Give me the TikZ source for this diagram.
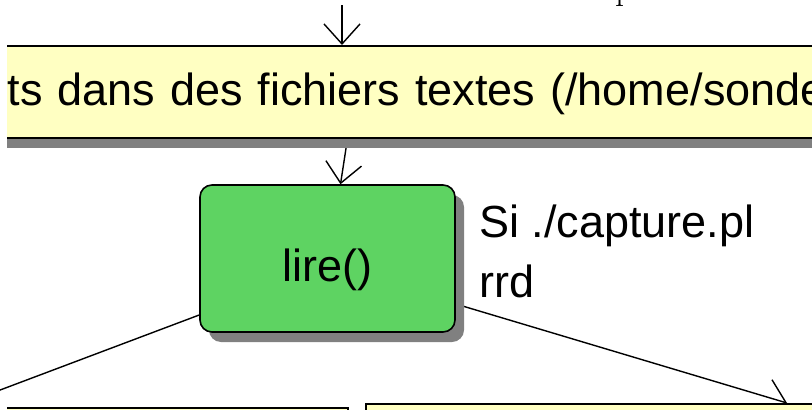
\documentclass[tikz,border=0pt]{standalone}
\usepackage{fontspec}
\newfontfamily\diagfont{Liberation Sans}
\usetikzlibrary{arrows.meta,backgrounds}
\definecolor{yfill}{RGB}{255,255,194}
\definecolor{gfill}{RGB}{94,211,98}
\definecolor{shadowg}{RGB}{128,128,128}
\tikzset{
  boxshadow/.style={preaction={fill=shadowg,transform canvas={shift={(#1)}}}},
  yellowbox/.style={draw=black,line width=1.6pt,fill=yfill,boxshadow={8pt,-10pt},inner sep=0pt},
  greenbox/.style={draw=black,line width=1.6pt,fill=gfill,rounded corners=12pt,boxshadow={9pt,-10pt},inner sep=0pt},
  bigtext/.style={font=\diagfont\fontsize{45}{60}\selectfont},
  conn/.style={draw=black,line width=1.4pt,-{Straight Barb[length=20pt,width=36pt]}},
}
\begin{document}
\begin{tikzpicture}[x=1pt,y=-1pt]
\useasboundingbox (0,0) rectangle (812,410);
\clip (7,-20) rectangle (830,430);
% partial text at top
\node[font=\fontsize{36}{36}\selectfont\rmfamily,anchor=base west,inner sep=0pt] (ptext) at (615,-1) {p};
% top yellow box
\node[yellowbox,bigtext,anchor=north west,minimum height=92pt,text width=950pt,align=left,inner xsep=10pt] (files) at (-3,45) {\raisebox{-14pt}[0pt][0pt]{ts dans des fichiers textes (/home/sonde}};
% green box
\node[greenbox,bigtext,minimum width=255pt,minimum height=147pt] (lire) at (327.5,258.5) {\raisebox{-23pt}[0pt][0pt]{lire()}};
% label
\node[bigtext,anchor=base west,inner sep=0pt,align=left] (cond) at (479,297) {Si ./capture.pl\\rrd};
% bottom boxes
\node[yellowbox,anchor=north west,minimum width=397pt,minimum height=60pt] (lbox) at (-50,407) {};
\node[yellowbox,anchor=north west,minimum width=500pt,minimum height=60pt] (rbox) at (365,403) {};
\coordinate (topin) at (342,5);
\begin{scope}[on background layer]
\draw[conn] (topin) -- (topin |- files.north);
\draw[conn] ([xshift=20pt]lire.north |- files.south) -- ([xshift=13pt]lire.north);
\draw[conn] ([yshift=-56.5pt]lire.west) -- ([xshift=5pt]lbox.north west);
\draw[conn] ([yshift=-45.5pt]lire.east) -- ([xshift=422pt]rbox.north west);
\end{scope}
\end{tikzpicture}
\end{document}
